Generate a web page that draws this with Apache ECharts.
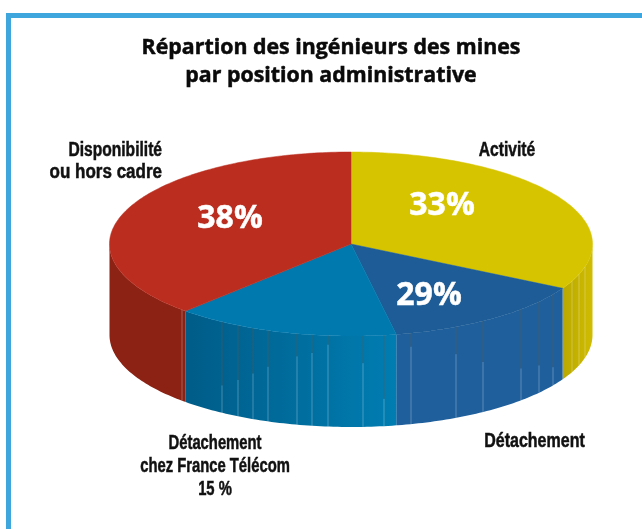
<!DOCTYPE html>
<html>
<head>
<meta charset="utf-8">
<title>Répartion des ingénieurs des mines</title>
<style>
html, body { margin: 0; padding: 0; background: #fff; }
#chart { width: 642px; height: 529px; }
</style>
<script src="https://cdn.jsdelivr.net/npm/echarts@6/dist/echarts.min.js"></script>
</head>
<body>
<div id="chart"></div>
<script>
var titleLines = ['Répartion des ingénieurs des mines', 'par position administrative'];
var categories = ['Activité', 'Détachement', 'Détachement\nchez France Télécom\n15 %', 'Disponibilité', 'ou hors cadre'];
var values = [33, 14, 15, 38];
var percentLabels = ['33%', '29%', '38%'];

// look of the drum
var cx = 351, cy = 244, rx = 241.5, ry = 92, depth = 91;
var topColors = ['#d6c400', '#1d5c96', '#0079ae', '#bb2d1f'];
var wallColors = [['#d0bc00', '#b9a800'], ['#1f5f9c', '#1f5f9c'], ['#005c88', '#007db2'], ['#8c2214', '#8c2214']];
// thin seams of the side wall: x, part of the height that is dark
var seams = [[182, 0], [222, 0.7], [238, 0.6], [253, 0.5], [268, 0.4], [297, 0.25], [312, 0.2], [328, 0.1], [363, 0.3], [384, 0.7],
	[411, 0.15], [456, 0.3], [483, 0.45], [521, 0.65], [539, 0.7], [553, 0.8], [572, 0], [579, 0], [585, 0]];

var total = 0;
for (var i = 0; i < values.length; i++) {
	total += values[i];
}

function rimPoint(deg, dy) {
	var a = deg * Math.PI / 180;
	return [cx + rx * Math.sin(a), cy - ry * Math.cos(a) + (dy || 0)];
}

function renderSlice(params, api) {
	var start = 0;
	for (var k = 0; k < params.dataIndex; k++) {
		start += values[k];
	}
	var a0 = start / total * 360;
	var a1 = a0 + api.value(0) / total * 360;
	var children = [];

	// side wall, only the front half of the rim shows
	var w0 = Math.max(a0, 90), w1 = Math.min(a1, 270);
	if (w1 > w0) {
		var wall = [], back = [];
		for (var d = w0; d <= w1; d += 1) {
			wall.push(rimPoint(d));
			back.unshift(rimPoint(d, depth));
		}
		wall.push(rimPoint(w1));
		back.unshift(rimPoint(w1, depth));
		var wc = wallColors[params.dataIndex];
		children.push({
			type: 'polygon',
			shape: { points: wall.concat(back) },
			style: {
				fill: new echarts.graphic.LinearGradient(1, 0, 0, 0, [
					{ offset: 0, color: params.dataIndex === 2 ? wc[1] : wc[0] },
					{ offset: 1, color: params.dataIndex === 2 ? wc[0] : wc[1] }
				])
			}
		});
	}

	// top face
	var face = [[cx, cy]];
	for (var t = a0; t < a1; t += 1) {
		face.push(rimPoint(t));
	}
	face.push(rimPoint(a1));
	children.push({
		type: 'polygon',
		shape: { points: face },
		style: { fill: topColors[params.dataIndex], stroke: topColors[params.dataIndex], lineWidth: 0.5 }
	});
	return { type: 'group', children: children };
}

function renderSeam(params, api) {
	var x = api.value(0), split = api.value(1);
	var u = (x - cx) / rx;
	var yTop = cy + ry * Math.sqrt(1 - u * u);
	var yMid = yTop + depth * split;
	return {
		type: 'group',
		children: [{
			type: 'line',
			shape: { x1: x, y1: yTop, x2: x, y2: yMid },
			style: { stroke: 'rgba(90,90,80,0.5)', lineWidth: 1 }
		}, {
			type: 'line',
			shape: { x1: x, y1: yMid, x2: x, y2: yTop + depth },
			style: { stroke: 'rgba(255,255,255,0.28)', lineWidth: 1 }
		}]
	};
}

function labelText(str, x, y, font, size, color, height, squeeze, align) {
	return {
		type: 'text',
		x: x,
		y: y,
		z: 10,
		scaleX: squeeze,
		silent: true,
		style: {
			text: str,
			fill: color,
			stroke: color,
			lineWidth: 0.5,
			fontFamily: font,
			fontWeight: 'bold',
			fontSize: size,
			lineHeight: height,
			align: align || 'center',
			verticalAlign: 'middle'
		}
	};
}

var narrow = '"Liberation Sans", sans-serif';
var wide = '"Open Sans", sans-serif';

var chart = echarts.init(document.getElementById('chart'), null, { renderer: 'canvas' });
var option = {
	animation: false,
	backgroundColor: '#fff',
	series: [{
		type: 'custom',
		coordinateSystem: 'none',
		data: values,
		renderItem: renderSlice,
		z: 1
	}, {
		type: 'custom',
		coordinateSystem: 'none',
		data: seams,
		renderItem: renderSeam,
		z: 2
	}],
	graphic: [
		{ type: 'rect', shape: { x: 6, y: 13, width: 636, height: 5 }, style: { fill: '#3fa5dd' }, silent: true },
		{ type: 'rect', shape: { x: 6, y: 13, width: 5, height: 516 }, style: { fill: '#3fa5dd' }, silent: true },
		labelText(titleLines[0], 331, 48, wide, 22, '#0a0a0a', 28, 0.97),
		labelText(titleLines[1], 331, 76, wide, 22, '#0a0a0a', 28, 0.97),
		labelText(categories[0], 507, 150, narrow, 20, '#111', 24, 0.78),
		labelText(categories[1], 534.5, 441, narrow, 20, '#111', 24, 0.8),
		labelText(categories[2], 215, 466, narrow, 20, '#111', 23, 0.74),
		labelText(categories[3], 162, 150, narrow, 20, '#111', 23, 0.78, 'right'),
		labelText(categories[4], 162, 172, narrow, 20, '#111', 23, 0.85, 'right'),
		labelText(percentLabels[0], 442, 206, wide, 32, '#fff', 32, 1),
		labelText(percentLabels[1], 429, 296, wide, 32, '#fff', 32, 1),
		labelText(percentLabels[2], 230, 219, wide, 32, '#fff', 32, 1)
	]
};
chart.setOption(option);
</script>
</body>
</html>
